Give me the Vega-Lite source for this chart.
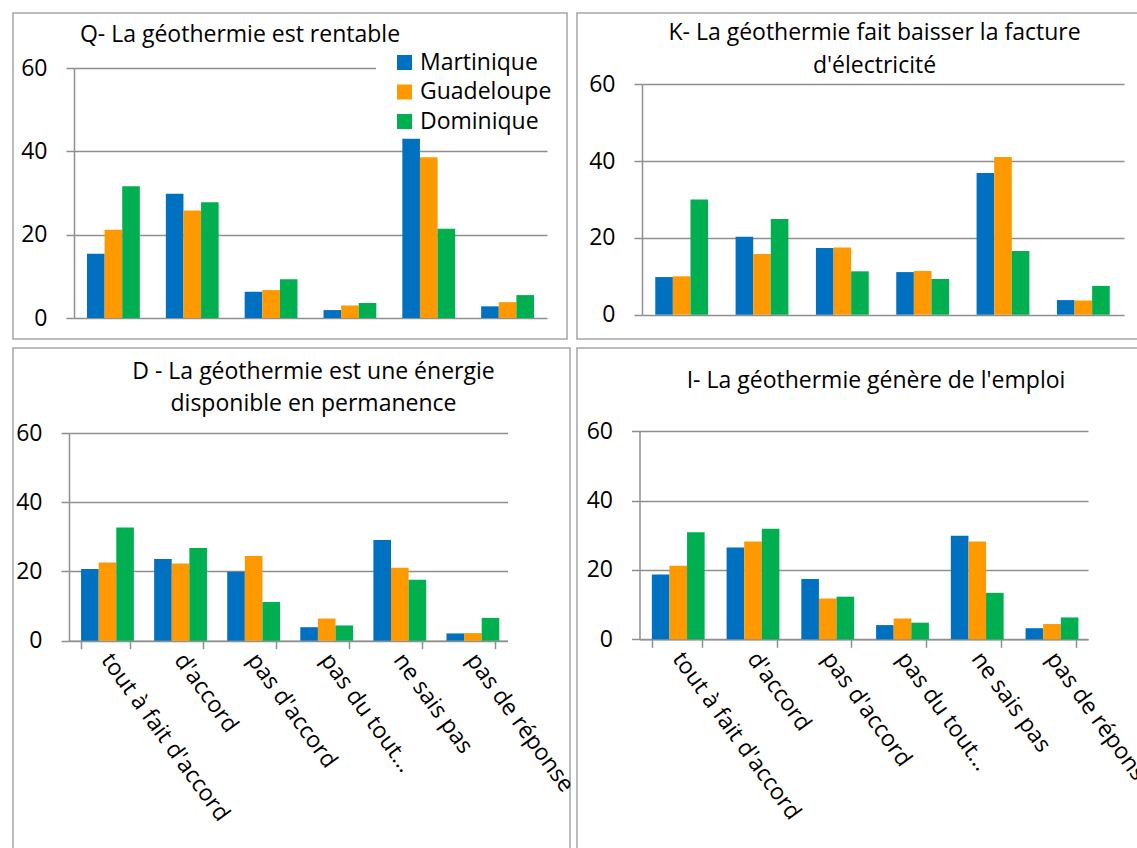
{
  "$schema": "https://vega.github.io/schema/vega-lite/v6.json",
  "padding": {"left": 2, "top": 12, "right": 0, "bottom": 0},
  "background": "white",
  "datasets": {
    "survey": [
      {"panel": "Q", "reponse": "tout à fait d'accord", "region": "Martinique", "valeur": 15.4},
      {"panel": "Q", "reponse": "tout à fait d'accord", "region": "Guadeloupe", "valeur": 21.2},
      {"panel": "Q", "reponse": "tout à fait d'accord", "region": "Dominique", "valeur": 31.6},
      {"panel": "Q", "reponse": "d'accord", "region": "Martinique", "valeur": 29.8},
      {"panel": "Q", "reponse": "d'accord", "region": "Guadeloupe", "valeur": 25.8},
      {"panel": "Q", "reponse": "d'accord", "region": "Dominique", "valeur": 27.8},
      {"panel": "Q", "reponse": "pas d'accord", "region": "Martinique", "valeur": 6.3},
      {"panel": "Q", "reponse": "pas d'accord", "region": "Guadeloupe", "valeur": 6.7},
      {"panel": "Q", "reponse": "pas d'accord", "region": "Dominique", "valeur": 9.3},
      {"panel": "Q", "reponse": "pas du tout…", "region": "Martinique", "valeur": 1.9},
      {"panel": "Q", "reponse": "pas du tout…", "region": "Guadeloupe", "valeur": 3.0},
      {"panel": "Q", "reponse": "pas du tout…", "region": "Dominique", "valeur": 3.6},
      {"panel": "Q", "reponse": "ne sais pas", "region": "Martinique", "valeur": 43.0},
      {"panel": "Q", "reponse": "ne sais pas", "region": "Guadeloupe", "valeur": 38.6},
      {"panel": "Q", "reponse": "ne sais pas", "region": "Dominique", "valeur": 21.4},
      {"panel": "Q", "reponse": "pas de réponse", "region": "Martinique", "valeur": 2.8},
      {"panel": "Q", "reponse": "pas de réponse", "region": "Guadeloupe", "valeur": 3.8},
      {"panel": "Q", "reponse": "pas de réponse", "region": "Dominique", "valeur": 5.5},

      {"panel": "K", "reponse": "tout à fait d'accord", "region": "Martinique", "valeur": 9.8},
      {"panel": "K", "reponse": "tout à fait d'accord", "region": "Guadeloupe", "valeur": 10.0},
      {"panel": "K", "reponse": "tout à fait d'accord", "region": "Dominique", "valeur": 30.0},
      {"panel": "K", "reponse": "d'accord", "region": "Martinique", "valeur": 20.3},
      {"panel": "K", "reponse": "d'accord", "region": "Guadeloupe", "valeur": 15.8},
      {"panel": "K", "reponse": "d'accord", "region": "Dominique", "valeur": 24.9},
      {"panel": "K", "reponse": "pas d'accord", "region": "Martinique", "valeur": 17.4},
      {"panel": "K", "reponse": "pas d'accord", "region": "Guadeloupe", "valeur": 17.5},
      {"panel": "K", "reponse": "pas d'accord", "region": "Dominique", "valeur": 11.3},
      {"panel": "K", "reponse": "pas du tout…", "region": "Martinique", "valeur": 11.1},
      {"panel": "K", "reponse": "pas du tout…", "region": "Guadeloupe", "valeur": 11.4},
      {"panel": "K", "reponse": "pas du tout…", "region": "Dominique", "valeur": 9.3},
      {"panel": "K", "reponse": "ne sais pas", "region": "Martinique", "valeur": 36.9},
      {"panel": "K", "reponse": "ne sais pas", "region": "Guadeloupe", "valeur": 41.1},
      {"panel": "K", "reponse": "ne sais pas", "region": "Dominique", "valeur": 16.6},
      {"panel": "K", "reponse": "pas de réponse", "region": "Martinique", "valeur": 3.8},
      {"panel": "K", "reponse": "pas de réponse", "region": "Guadeloupe", "valeur": 3.7},
      {"panel": "K", "reponse": "pas de réponse", "region": "Dominique", "valeur": 7.5},

      {"panel": "D", "reponse": "tout à fait d'accord", "region": "Martinique", "valeur": 20.7},
      {"panel": "D", "reponse": "tout à fait d'accord", "region": "Guadeloupe", "valeur": 22.6},
      {"panel": "D", "reponse": "tout à fait d'accord", "region": "Dominique", "valeur": 32.7},
      {"panel": "D", "reponse": "d'accord", "region": "Martinique", "valeur": 23.6},
      {"panel": "D", "reponse": "d'accord", "region": "Guadeloupe", "valeur": 22.3},
      {"panel": "D", "reponse": "d'accord", "region": "Dominique", "valeur": 26.8},
      {"panel": "D", "reponse": "pas d'accord", "region": "Martinique", "valeur": 19.9},
      {"panel": "D", "reponse": "pas d'accord", "region": "Guadeloupe", "valeur": 24.5},
      {"panel": "D", "reponse": "pas d'accord", "region": "Dominique", "valeur": 11.2},
      {"panel": "D", "reponse": "pas du tout…", "region": "Martinique", "valeur": 3.9},
      {"panel": "D", "reponse": "pas du tout…", "region": "Guadeloupe", "valeur": 6.4},
      {"panel": "D", "reponse": "pas du tout…", "region": "Dominique", "valeur": 4.4},
      {"panel": "D", "reponse": "ne sais pas", "region": "Martinique", "valeur": 29.1},
      {"panel": "D", "reponse": "ne sais pas", "region": "Guadeloupe", "valeur": 21.1},
      {"panel": "D", "reponse": "ne sais pas", "region": "Dominique", "valeur": 17.6},
      {"panel": "D", "reponse": "pas de réponse", "region": "Martinique", "valeur": 2.1},
      {"panel": "D", "reponse": "pas de réponse", "region": "Guadeloupe", "valeur": 2.2},
      {"panel": "D", "reponse": "pas de réponse", "region": "Dominique", "valeur": 6.6},

      {"panel": "I", "reponse": "tout à fait d'accord", "region": "Martinique", "valeur": 18.7},
      {"panel": "I", "reponse": "tout à fait d'accord", "region": "Guadeloupe", "valeur": 21.2},
      {"panel": "I", "reponse": "tout à fait d'accord", "region": "Dominique", "valeur": 30.9},
      {"panel": "I", "reponse": "d'accord", "region": "Martinique", "valeur": 26.5},
      {"panel": "I", "reponse": "d'accord", "region": "Guadeloupe", "valeur": 28.2},
      {"panel": "I", "reponse": "d'accord", "region": "Dominique", "valeur": 31.9},
      {"panel": "I", "reponse": "pas d'accord", "region": "Martinique", "valeur": 17.4},
      {"panel": "I", "reponse": "pas d'accord", "region": "Guadeloupe", "valeur": 11.8},
      {"panel": "I", "reponse": "pas d'accord", "region": "Dominique", "valeur": 12.3},
      {"panel": "I", "reponse": "pas du tout…", "region": "Martinique", "valeur": 4.1},
      {"panel": "I", "reponse": "pas du tout…", "region": "Guadeloupe", "valeur": 6.0},
      {"panel": "I", "reponse": "pas du tout…", "region": "Dominique", "valeur": 4.8},
      {"panel": "I", "reponse": "ne sais pas", "region": "Martinique", "valeur": 29.9},
      {"panel": "I", "reponse": "ne sais pas", "region": "Guadeloupe", "valeur": 28.2},
      {"panel": "I", "reponse": "ne sais pas", "region": "Dominique", "valeur": 13.4},
      {"panel": "I", "reponse": "pas de réponse", "region": "Martinique", "valeur": 3.2},
      {"panel": "I", "reponse": "pas de réponse", "region": "Guadeloupe", "valeur": 4.4},
      {"panel": "I", "reponse": "pas de réponse", "region": "Dominique", "valeur": 6.3}
    ]
  },
  "data": {"name": "survey"},
  "columns": 2,
  "align": "none",
  "bounds": "flush",
  "spacing": {"row": 9, "column": 7},
  "resolve": {"scale": {"color": "independent"}, "legend": {"color": "independent"}},
  "concat": [
    {
      "width": 554, "height": 326,
      "transform": [{"filter": "datum.panel === 'Q'"}],
      "title": {"text": "Q- La géothermie est rentable", "anchor": "middle", "frame": "group", "dx": -50, "offset": -33.8},
      "mark": {"type": "bar"},
      "encoding": {
        "x": {"field": "reponse", "type": "nominal", "sort": null,
              "scale": {"domain": ["tout à fait d'accord", "d'accord", "pas d'accord", "pas du tout…", "ne sais pas", "pas de réponse"], "range": [61, 534], "paddingInner": 0.33, "paddingOuter": 0.165},
              "axis": null},
        "xOffset": {"field": "region", "type": "nominal", "scale": {"domain": ["Martinique", "Guadeloupe", "Dominique"], "paddingInner": 0, "paddingOuter": 0}},
        "y": {"field": "valeur", "type": "quantitative",
              "scale": {"domain": [0, 60], "range": [305, 55], "nice": false},
              "axis": {"values": [0, 20, 40, 60], "offset": -61, "title": null}},
        "color": {"field": "region", "type": "nominal",
                  "scale": {"domain": ["Martinique", "Guadeloupe", "Dominique"], "range": ["#0070C0", "#FF9900", "#00B050"]},
                  "legend": {"orient": "none", "legendX": 363, "legendY": 34, "title": null, "symbolType": "square", "symbolSize": 225, "symbolStrokeWidth": 0, "labelFontSize": 23, "labelFont": "Open Sans", "labelColor": "#000000", "fillColor": "white", "padding": 4, "symbolOffset": 13, "labelOffset": 4, "rowPadding": 5.5}}
      }
    },
    {
      "width": 568, "height": 326,
      "transform": [{"filter": "datum.panel === 'K'"}],
      "title": {"text": ["K- La géothermie fait baisser la facture", "d'électricité"], "anchor": "middle", "frame": "group", "dx": 13.5, "offset": -64.8, "lineHeight": 32.5},
      "mark": {"type": "bar"},
      "encoding": {
        "x": {"field": "reponse", "type": "nominal", "sort": null,
              "scale": {"domain": ["tout à fait d'accord", "d'accord", "pas d'accord", "pas du tout…", "ne sais pas", "pas de réponse"], "range": [65, 547], "paddingInner": 0.33, "paddingOuter": 0.165},
              "axis": null},
        "xOffset": {"field": "region", "type": "nominal", "scale": {"domain": ["Martinique", "Guadeloupe", "Dominique"], "paddingInner": 0, "paddingOuter": 0}},
        "y": {"field": "valeur", "type": "quantitative",
              "scale": {"domain": [0, 60], "range": [301.7, 71.3], "nice": false},
              "axis": {"values": [0, 20, 40, 60], "offset": -65, "title": null}},
        "color": {"field": "region", "type": "nominal",
                  "scale": {"domain": ["Martinique", "Guadeloupe", "Dominique"], "range": ["#0070C0", "#FF9900", "#00B050"]},
                  "legend": null}
      }
    },
    {
      "width": 557, "height": 501,
      "transform": [{"filter": "datum.panel === 'D'"}],
      "title": {"text": ["D - La géothermie est une énergie", "disponible en permanence"], "anchor": "middle", "frame": "group", "dx": 22, "offset": -67.8, "lineHeight": 32},
      "mark": {"type": "bar"},
      "encoding": {
        "x": {"field": "reponse", "type": "nominal", "sort": null,
              "scale": {"domain": ["tout à fait d'accord", "d'accord", "pas d'accord", "pas du tout…", "ne sais pas", "pas de réponse"], "range": [56, 494.5], "paddingInner": 0.33, "paddingOuter": 0.165},
              "axis": {"offset": -208.3, "title": null, "labelAngle": 54, "labelAlign": "left", "labelBaseline": "middle", "tickBand": "extent", "labelPadding": 7, "labelLimit": 400}},
        "xOffset": {"field": "region", "type": "nominal", "scale": {"domain": ["Martinique", "Guadeloupe", "Dominique"], "paddingInner": 0, "paddingOuter": 0}},
        "y": {"field": "valeur", "type": "quantitative",
              "scale": {"domain": [0, 60], "range": [292.7, 85], "nice": false},
              "axis": {"values": [0, 20, 40, 60], "offset": -56, "title": null}},
        "color": {"field": "region", "type": "nominal",
                  "scale": {"domain": ["Martinique", "Guadeloupe", "Dominique"], "range": ["#0070C0", "#FF9900", "#00B050"]},
                  "legend": null}
      }
    },
    {
      "width": 565, "height": 501,
      "transform": [{"filter": "datum.panel === 'I'"}],
      "title": {"text": "I- La géothermie génère de l'emploi", "anchor": "middle", "frame": "group", "dx": 16.5, "offset": -44.5},
      "mark": {"type": "bar"},
      "encoding": {
        "x": {"field": "reponse", "type": "nominal", "sort": null,
              "scale": {"domain": ["tout à fait d'accord", "d'accord", "pas d'accord", "pas du tout…", "ne sais pas", "pas de réponse"], "range": [62.5, 511], "paddingInner": 0.33, "paddingOuter": 0.165},
              "axis": {"offset": -209.7, "title": null, "labelAngle": 54, "labelAlign": "left", "labelBaseline": "middle", "tickBand": "extent", "labelPadding": 7, "labelLimit": 400}},
        "xOffset": {"field": "region", "type": "nominal", "scale": {"domain": ["Martinique", "Guadeloupe", "Dominique"], "paddingInner": 0, "paddingOuter": 0}},
        "y": {"field": "valeur", "type": "quantitative",
              "scale": {"domain": [0, 60], "range": [291.3, 83.3], "nice": false},
              "axis": {"values": [0, 20, 40, 60], "offset": -62.5, "title": null}},
        "color": {"field": "region", "type": "nominal",
                  "scale": {"domain": ["Martinique", "Guadeloupe", "Dominique"], "range": ["#0070C0", "#FF9900", "#00B050"]},
                  "legend": null}
      }
    }
  ],
  "config": {
    "font": "Open Sans",
    "view": {"stroke": "#a6a6a6", "strokeWidth": 1.5},
    "axis": {"labelFont": "Open Sans", "labelFontSize": 23, "labelColor": "#000000", "grid": true, "gridColor": "#8f8f8f", "gridWidth": 1.5, "domain": true, "domainColor": "#8f8f8f", "domainWidth": 1.5, "ticks": true, "tickColor": "#8f8f8f", "tickWidth": 1.5, "tickSize": 8, "labelPadding": 19},
    "axisX": {"grid": false, "labelPadding": 7},
    "title": {"font": "Open Sans", "fontSize": 23, "fontWeight": "normal", "color": "#000000"},
    "legend": {"labelFont": "Open Sans", "labelFontSize": 23}
  }
}
